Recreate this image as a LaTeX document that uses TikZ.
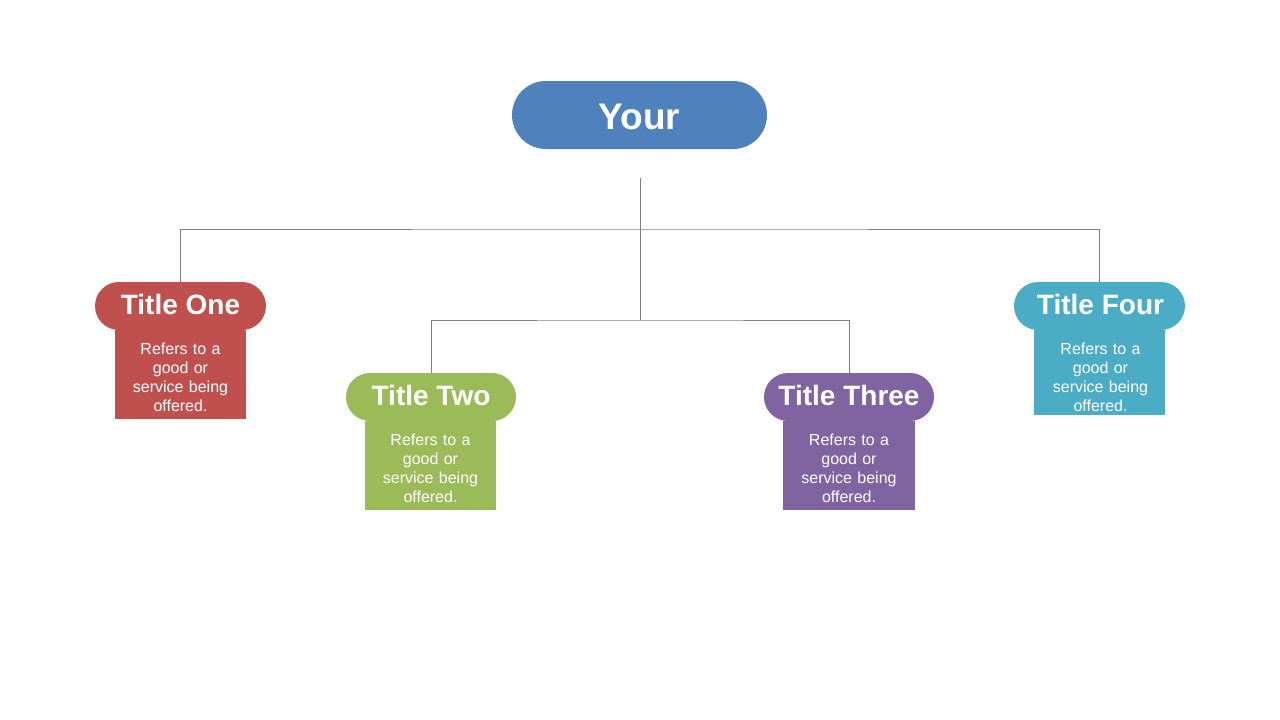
\documentclass[tikz,border=0pt]{standalone}
\usepackage{fontspec}
\setmainfont{Liberation Sans}
\definecolor{cblue}{HTML}{4F81BD}
\definecolor{cred}{HTML}{C0504D}
\definecolor{cgreen}{HTML}{9BBB59}
\definecolor{cpurple}{HTML}{8064A2}
\definecolor{cteal}{HTML}{4BACC6}
\definecolor{cline}{HTML}{808080}
\begin{document}
\begin{tikzpicture}[x=1pt,y=-1pt,
  pill/.style={rectangle, rounded corners=24pt, minimum width=171pt, minimum height=48pt, inner sep=0pt},
  titletxt/.style={inner sep=0pt, text=white, font=\fontsize{28}{30}\selectfont\bfseries},
  bodybox/.style={rectangle, minimum width=131pt, minimum height=89pt, inner sep=0pt, anchor=north},
  bodytxt/.style={inner sep=0pt, text=white, text width=130pt, align=center, font=\fontsize{16}{19}\selectfont},
  conn/.style={draw=cline, line width=0.8pt}]
\path[fill=white, use as bounding box] (0,0) rectangle (1280,720);
% top
\node[rectangle, rounded corners=34pt, fill=cblue, minimum width=255pt, minimum height=68pt, inner sep=0pt] (top) at (639.5,115) {};
\node[inner sep=0pt, text=white, font=\fontsize{37}{40}\selectfont\bfseries] (toptxt) at ([yshift=-2pt]top.center) {Your};
\coordinate (topstart) at (640,178);
\coordinate (j1) at (640,229);
\coordinate (j2) at (640,320);
% bodies
\node[bodybox, fill=cred] (b1) at (180.5,330) {};
\node[bodybox, fill=cgreen] (b2) at (430.5,421) {};
\node[bodybox, fill=cpurple, minimum width=132pt] (b3) at (849,421) {};
\node[bodybox, fill=cteal, minimum height=85pt] (b4) at (1099.5,330) {};
% pills
\node[pill, fill=cred] (t1) at (180.5,306) {};
\node[pill, fill=cgreen, minimum width=170pt] (t2) at (431,397) {};
\node[pill, fill=cpurple, minimum width=170pt] (t3) at (849,397) {};
\node[pill, fill=cteal] (t4) at (1099.5,306) {};
% texts
\node[titletxt] (l1) at ([yshift=2pt]t1.center) {Title One};
\node[titletxt] (l2) at ([yshift=2pt]t2.center) {Title Two};
\node[titletxt] (l3) at ([yshift=2pt]t3.center) {Title Three};
\node[titletxt] (l4) at ([xshift=1pt,yshift=2pt]t4.center) {Title Four};
\node[bodytxt] (d1) at ([yshift=-3pt]b1.center) {Refers to a\\ good or\\ service being\\ offered.};
\node[bodytxt] (d2) at ([yshift=-3pt]b2.center) {Refers to a\\ good or\\ service being\\ offered.};
\node[bodytxt] (d3) at ([yshift=-3pt]b3.center) {Refers to a\\ good or\\ service being\\ offered.};
\node[bodytxt] (d4) at ([xshift=1pt,yshift=-5pt]b4.center) {Refers to a\\ good or\\ service being\\ offered.};
% connectors
\draw[conn] (topstart) -- (j2);
\draw[conn] (t1.north) |- (j1) -| (t4.north);
\draw[conn] (t2.north) |- (j2) -| (t3.north);
\end{tikzpicture}
\end{document}
